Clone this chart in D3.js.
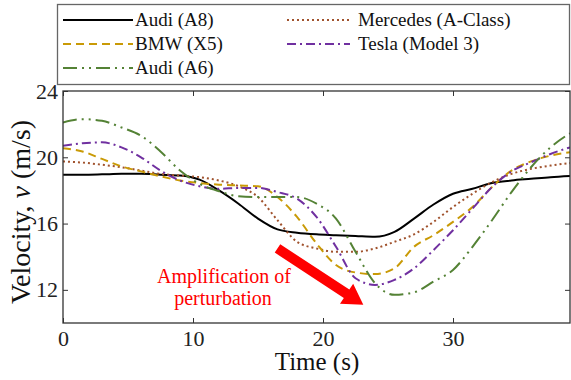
<!DOCTYPE html>
<html>
<head>
  <title>Velocity chart</title>
  <script src="https://d3js.org/d3.v7.min.js"></script>
  <style>
    body { margin: 0; background: #fff; }
  </style>
</head>
<body>
  <div id="chart"></div>

  <script>
    // data
    const time = [0, 1.5, 3, 4.5, 6, 7.5, 9, 10.5, 12, 13.5, 15, 16.5, 18, 19.5, 21, 22.5, 24, 25.5, 27, 28.5, 30, 31.5, 33, 34.5, 36, 37.5, 39];
    const audiA8 = [18.95, 18.95, 18.97, 19.0, 19.0, 18.95, 18.9, 18.65, 18.0, 17.2, 16.3, 15.65, 15.45, 15.35, 15.3, 15.25, 15.2, 15.5, 16.3, 17.15, 17.8, 18.1, 18.45, 18.6, 18.7, 18.8, 18.87];
    const mercedes = [19.75, 19.68, 19.55, 19.4, 19.2, 19.0, 18.9, 18.8, 18.6, 18.25, 17.6, 16.2, 14.9, 14.5, 14.3, 14.3, 14.5, 14.9, 15.35, 16.1, 17.0, 17.8, 18.5, 19.0, 19.3, 19.5, 19.65];
    const bmw = [20.55, 20.35, 19.9, 19.45, 19.15, 18.85, 18.6, 18.45, 18.35, 18.3, 18.25, 17.6, 16.4, 14.8, 13.5, 13.05, 12.95, 13.3, 14.6, 15.3, 16.1, 17.0, 18.2, 19.2, 19.75, 20.1, 20.3];
    const tesla = [20.7, 20.85, 20.9, 20.6, 20.0, 19.2, 18.6, 18.25, 18.1, 18.15, 18.15, 17.9, 17.5, 16.4, 14.6, 12.7, 12.3, 12.6, 13.3, 14.4, 15.6, 16.9, 18.2, 19.15, 19.7, 20.2, 20.6];
    const audiA6 = [22.1, 22.3, 22.2, 21.8, 21.3, 20.35, 19.2, 18.4, 17.95, 17.65, 17.6, 17.6, 17.6, 17.2, 16.3, 14.3, 12.4, 11.7, 11.85, 12.5, 13.2, 14.6, 16.2, 17.9, 19.4, 20.6, 21.45];

    const xTicks = [0, 10, 20, 30];
    const yTicks = [12, 16, 20, 24];

    const series = [
      { name: "Audi (A8)", values: audiA8, color: "#000000", dash: null, col: 0, row: 0 },
      { name: "BMW (X5)", values: bmw, color: "#C99A06", dash: "8,5", col: 0, row: 1 },
      { name: "Audi (A6)", values: audiA6, color: "#548235", dash: "14,5,2,5,2,5", col: 0, row: 2 },
      { name: "Mercedes (A-Class)", values: mercedes, color: "#A0522D", dash: "2,3", col: 1, row: 0 },
      { name: "Tesla (Model 3)", values: tesla, color: "#7030A0", dash: "9,4,2,4", col: 1, row: 1 }
    ];

    const FONT = "Liberation Serif";
    const W = 571, H = 380;
    const plot = { left: 63, right: 570, top: 91, bottom: 323 };

    const svg = d3.select("#chart").append("svg")
      .attr("width", W)
      .attr("height", H);

    const x = d3.scaleLinear().domain([0, 39]).range([plot.left, plot.right]);
    const y = d3.scaleLinear().domain([10, 24]).range([plot.bottom, plot.top]);

    svg.append("clipPath").attr("id", "clip")
      .append("rect")
      .attr("x", plot.left).attr("y", plot.top)
      .attr("width", plot.right - plot.left).attr("height", plot.bottom - plot.top);

    // curves
    const line = d3.line()
      .x((d, i) => x(time[i]))
      .y(d => y(d))
      .curve(d3.curveMonotoneX);

    const drawOrder = [0, 3, 1, 4, 2];
    drawOrder.forEach(k => {
      const s = series[k];
      svg.append("path")
        .attr("clip-path", "url(#clip)")
        .attr("d", line(s.values))
        .attr("fill", "none")
        .attr("stroke", s.color)
        .attr("stroke-width", 2)
        .attr("stroke-dasharray", s.dash);
    });

    // axes with inward ticks on all four sides
    const tickLen = 5;
    const styleAxis = g => {
      g.attr("font-family", FONT).attr("font-size", 22);
      g.select(".domain").remove();
      g.selectAll("text").attr("fill", "#222");
    };
    svg.append("g")
      .attr("transform", `translate(0,${plot.bottom})`)
      .call(d3.axisBottom(x).tickValues(xTicks).tickSize(-tickLen).tickPadding(7))
      .call(styleAxis);
    svg.append("g")
      .attr("transform", `translate(0,${plot.top})`)
      .call(d3.axisTop(x).tickValues(xTicks).tickSize(-tickLen).tickFormat(""))
      .call(styleAxis);
    svg.append("g")
      .attr("transform", `translate(${plot.left},0)`)
      .call(d3.axisLeft(y).tickValues(yTicks).tickSize(-tickLen).tickPadding(5))
      .call(styleAxis);
    svg.append("g")
      .attr("transform", `translate(${plot.right},0)`)
      .call(d3.axisRight(y).tickValues(yTicks).tickSize(-tickLen).tickFormat(""))
      .call(styleAxis);
    svg.selectAll(".tick line").attr("stroke", "#333");

    svg.append("rect")
      .attr("x", plot.left).attr("y", plot.top)
      .attr("width", plot.right - plot.left).attr("height", plot.bottom - plot.top)
      .attr("fill", "none").attr("stroke", "#333").attr("stroke-width", 1.3);

    // axis labels
    svg.append("text")
      .attr("x", 317).attr("y", 370)
      .attr("text-anchor", "middle")
      .attr("font-family", FONT)
      .attr("font-size", 25)
      .attr("fill", "#111")
      .text("Time (s)");

    const yl = svg.append("text")
      .attr("transform", "translate(30,212) rotate(-90)")
      .attr("text-anchor", "middle")
      .attr("font-family", FONT)
      .attr("font-size", 28)
      .attr("fill", "#111");
    yl.append("tspan").text("Velocity, ");
    yl.append("tspan").attr("font-style", "italic").text("v");
    yl.append("tspan").text(" (m/s)");

    // annotation arrow
    const arrowFrom = [16.5, 14.5], arrowTo = [23.1, 11.1];
    const x0 = x(arrowFrom[0]), y0 = y(arrowFrom[1]);
    const x1 = x(arrowTo[0]), y1 = y(arrowTo[1]);
    const ang = Math.atan2(y1 - y0, x1 - x0);
    const len = Math.hypot(x1 - x0, y1 - y0);
    const headLen = 20, headW = 12, shaftW = 5;
    const pts = [
      [0, -shaftW], [len - headLen, -shaftW], [len - headLen, -headW],
      [len, 0], [len - headLen, headW], [len - headLen, shaftW], [0, shaftW]
    ];
    svg.append("polygon")
      .attr("transform", `translate(${x0},${y0}) rotate(${ang * 180 / Math.PI})`)
      .attr("points", pts.map(p => p.join(",")).join(" "))
      .attr("fill", "#FF0000");

    svg.append("text")
      .attr("x", 224).attr("y", 283)
      .attr("text-anchor", "middle")
      .attr("font-family", FONT)
      .attr("font-size", 20)
      .attr("fill", "#FF0000")
      .text("Amplification of");
    svg.append("text")
      .attr("x", 223).attr("y", 305)
      .attr("text-anchor", "middle")
      .attr("font-family", FONT)
      .attr("font-size", 20)
      .attr("fill", "#FF0000")
      .text("perturbation");

    // legend
    const lg = svg.append("g");
    lg.append("rect")
      .attr("x", 57.5).attr("y", 4.5)
      .attr("width", 512).attr("height", 80)
      .attr("fill", "#fff").attr("stroke", "#666").attr("stroke-width", 1.3);
    const colX = [[63, 133, 135], [287, 350, 358]];
    const rowY = [20, 44, 68];
    series.forEach(s => {
      const c = colX[s.col], ry = rowY[s.row];
      lg.append("line")
        .attr("x1", c[0]).attr("x2", c[1])
        .attr("y1", ry).attr("y2", ry)
        .attr("stroke", s.color).attr("stroke-width", 2)
        .attr("stroke-dasharray", s.dash);
      lg.append("text")
        .attr("x", c[2]).attr("y", ry + 6)
        .attr("font-family", FONT)
        .attr("font-size", 19)
        .attr("fill", "#111")
        .text(s.name);
    });
  </script>
</body>
</html>
